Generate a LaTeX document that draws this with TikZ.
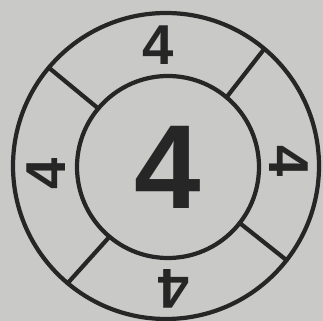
\documentclass[tikz,border=0pt]{standalone}
\usepackage{fontspec}
\setmainfont{Liberation Sans}
\usetikzlibrary{calc}
\definecolor{paper}{RGB}{201,201,199}
\definecolor{ink}{RGB}{38,38,38}
\begin{document}
\begin{tikzpicture}[x=0.025cm,y=0.025cm,line join=round,line cap=round]
	\def\R{153}\def\r{91}
	\tikzset{ring/.style={draw=ink,line width=3pt},
		num/.style={text=ink,inner sep=0pt,font=\fontsize{40}{40}\selectfont\bfseries},
		big/.style={num,font=\fontsize{85}{85}\selectfont\bfseries}}
	
	\fill[paper](0,0)rectangle(323,321);
	\useasboundingbox(0,0)rectangle(323,321);
	\coordinate(O)at(166,155);\coordinate(I)at(168,154);
	\draw[ring](O)circle[radius=\R];
	\draw[ring](I)circle[radius=\r];
	\foreach \a in {140,50,-38,-130}{
		\draw[ring]($(I)+(\a:\r)$)--($(O)+(\a:\R)$);	}
	\node[big](c)at(I){4};
	\foreach \n/\p/\t in {t/{158,276}/0,r/{289,160}/-90,b/{174,32}/180,l/{46,147}/90}{
		\node[num,rotate=\t](d\n)at(\p){4};	}
\end{tikzpicture}
\end{document}
